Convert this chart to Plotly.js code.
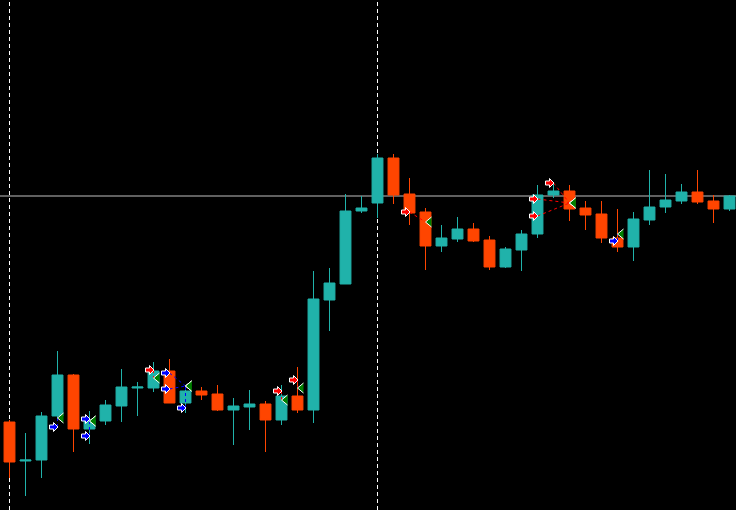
<!DOCTYPE html>
<html>
<head>
<meta charset="utf-8">
<script src="https://cdn.plot.ly/plotly-3.0.1.min.js"></script>
<style>
html,body{margin:0;padding:0;background:#000;}
#chart{width:736px;height:510px;}
</style>
</head>
<body>
<div id="chart"></div>
<script>
// Bar index (time) and OHLC prices (arbitrary price units)
var barIndex = [];
for (var k = 0; k < 46; k++) barIndex.push(k);
var openPrices  = [88,49,50,94,135,81,89,104,122,122,139,107,119,116,100,103,106,90,114,100,210,226,299,307,352,316,298,264,271,281,270,243,260,276,315,319,302,296,272,263,290,303,309,318,309,301];
var highPrices  = [90,77,98,159,136,99,110,141,128,148,151,122,123,125,112,120,109,125,143,239,242,316,314,356,356,332,302,285,293,287,274,263,280,325,326,325,309,309,301,298,340,336,326,340,315,315];
var lowPrices   = [32,14,32,92,58,66,85,88,94,118,107,97,110,99,65,80,58,85,97,87,179,226,297,292,306,285,240,258,268,268,240,242,239,272,312,289,280,267,258,249,285,297,306,306,287,299];
var closePrices = [48,50,94,135,81,90,105,123,123,139,107,119,115,100,104,106,90,114,100,211,227,299,302,352,315,297,264,272,281,269,243,261,276,315,319,301,295,272,263,291,303,310,318,308,301,314];

// Reference level line and vertical separators
var levelPrice = 314;
var separatorBars = [0, 23];

// Trades: buy (blue arrows) and sell (red arrows), with close points (green triangles)
var buyEntryBar   = [3, 5, 5, 10, 10, 11, 38];
var buyEntryPrice = [83, 91, 74, 137, 121, 102, 269];
var buyExitBar    = [3, 5, 5, 11, 11, 11, 38];
var buyExitPrice  = [92, 89, 89, 124, 124, 124, 276];

var sellEntryBar   = [9, 17, 18, 25, 34, 33, 33];
var sellEntryPrice = [140, 119, 130, 298, 327, 311, 294];
var sellExitBar    = [9, 17, 18, 26, 35, 35, 35];
var sellExitPrice  = [132, 110, 122, 288, 307, 307, 307];

var BAR_PX = 16; // pixels per bar on x scale
var X0 = -9.5 / BAR_PX;
var xRange = [X0, X0 + 736 / BAR_PX];
var yRange = [0, 510];

function px(idx, dx) { return idx + dx / BAR_PX; }
function arrowPath(idx, price) {
  var pts = [[-8,-2],[-4,-2],[-4,-4.5],[0.5,0],[-4,4.5],[-4,2],[-8,2]];
  return 'M' + pts.map(function(p){ return px(idx, p[0]) + ',' + (price - p[1]); }).join('L') + 'Z';
}
function triFill(idx, price) {
  var pts = [[0,0],[6,-5],[6,5]];
  return 'M' + pts.map(function(p){ return px(idx, p[0]) + ',' + (price - p[1]); }).join('L') + 'Z';
}
function triEdge(idx, price) {
  var pts = [[6,-5],[0,0],[6,5]];
  return 'M' + pts.map(function(p){ return px(idx, p[0]) + ',' + (price - p[1]); }).join('L');
}

var shapes = [];
// level line
shapes.push({type:'line', xref:'paper', x0:0, x1:1, yref:'y', y0:levelPrice, y1:levelPrice,
  line:{color:'#c0c0c0', width:1}, layer:'below'});
separatorBars.forEach(function(b){
  shapes.push({type:'line', xref:'x', x0:b, x1:b, yref:'paper', y0:0, y1:1,
    line:{color:'#ffffff', width:1, dash:'4px,3px'}, layer:'below'});
});

function addTrades(eb, ep, xb, xp, color) {
  for (var i = 0; i < eb.length; i++) {
    shapes.push({type:'line', xref:'x', yref:'y', x0:eb[i], y0:ep[i], x1:xb[i], y1:xp[i],
      line:{color:color, width:1, dash:'3px,3px'}, layer:'above'});
  }
  for (var i = 0; i < eb.length; i++) {
    shapes.push({type:'path', xref:'x', yref:'y', path:arrowPath(eb[i], ep[i]),
      fillcolor:color, line:{color:'#ffffff', width:1}, layer:'above'});
  }
  for (var i = 0; i < xb.length; i++) {
    shapes.push({type:'path', xref:'x', yref:'y', path:triFill(xb[i], xp[i]),
      fillcolor:'#008000', line:{width:0}, layer:'above'});
    shapes.push({type:'path', xref:'x', yref:'y', path:triEdge(xb[i], xp[i]),
      line:{color:'#ffffff', width:1}, layer:'above'});
  }
}
addTrades(buyEntryBar, buyEntryPrice, buyExitBar, buyExitPrice, '#0000ff');
addTrades(sellEntryBar, sellEntryPrice, sellExitBar, sellExitPrice, '#ff0000');

var trace = {
  type:'candlestick',
  x: barIndex,
  open: openPrices, high: highPrices, low: lowPrices, close: closePrices,
  increasing:{line:{color:'#20b2aa', width:1}, fillcolor:'#20b2aa'},
  decreasing:{line:{color:'#ff4500', width:1}, fillcolor:'#ff4500'},
  whiskerwidth:0,
  hoverinfo:'none',
  showlegend:false
};

var layout = {
  width:736, height:510,
  margin:{l:0, r:0, t:0, b:0, pad:0},
  paper_bgcolor:'#000000', plot_bgcolor:'#000000',
  showlegend:false,
  boxgap:0.32, boxgroupgap:0,
  xaxis:{range:xRange, showgrid:false, zeroline:false, showticklabels:false, ticks:'',
    showline:false, rangeslider:{visible:false}, fixedrange:true},
  yaxis:{range:yRange, showgrid:false, zeroline:false, showticklabels:false, ticks:'',
    showline:false, fixedrange:true},
  shapes: shapes
};

Plotly.newPlot('chart', [trace], layout, {staticPlot:true, displayModeBar:false});
</script>
</body>
</html>
